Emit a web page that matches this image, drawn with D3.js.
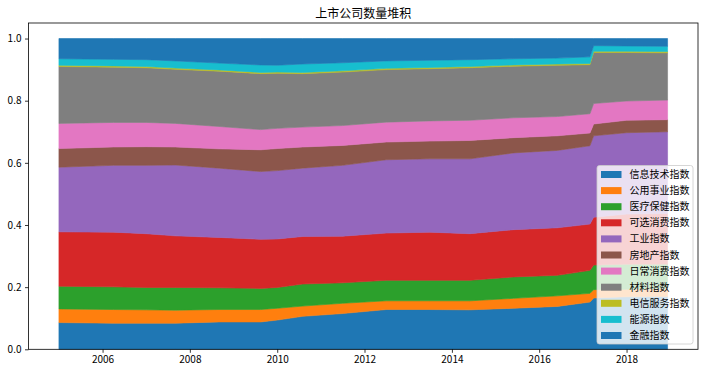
<!DOCTYPE html>
<meta charset="utf-8">
<script src="https://d3js.org/d3.v7.min.js"></script>
<style>
  body { margin: 0; background: #fff; }
  text { font-family: "Noto Sans CJK SC", "DejaVu Sans", sans-serif; }
</style>
<div id="my_dataviz"></div>
<script>
// sector names, bottom layer first
var sectors = ["信息技术指数", "公用事业指数", "医疗保健指数", "可选消费指数", "工业指数",
               "房地产指数", "日常消费指数", "材料指数", "电信服务指数", "能源指数", "金融指数"];

// sample dates
var dates = ["2005-01-01", "2006-04-01", "2007-01-01", "2007-09-01", "2008-09-01", "2009-08-15",
             "2010-01-01", "2010-08-01", "2011-07-01", "2012-07-01", "2013-07-01", "2014-06-01",
             "2015-06-01", "2016-06-01", "2017-03-01", "2017-04-01", "2018-01-01", "2018-12-10"];

// share of listed companies per sector at each date
var infoTech   = [0.086, 0.084, 0.084, 0.084, 0.088, 0.088, 0.094, 0.106, 0.115, 0.128, 0.128, 0.127, 0.132, 0.138, 0.152, 0.165, 0.169, 0.170];
var utilities  = [0.044, 0.044, 0.043, 0.042, 0.040, 0.040, 0.038, 0.033, 0.033, 0.028, 0.028, 0.029, 0.032, 0.034, 0.028, 0.027, 0.024, 0.025];
var health     = [0.073, 0.073, 0.072, 0.073, 0.070, 0.068, 0.067, 0.071, 0.066, 0.066, 0.066, 0.066, 0.069, 0.066, 0.074, 0.079, 0.081, 0.079];
var consDisc   = [0.175, 0.176, 0.173, 0.166, 0.162, 0.158, 0.156, 0.153, 0.150, 0.152, 0.155, 0.150, 0.152, 0.153, 0.149, 0.154, 0.161, 0.163];
var industrial = [0.208, 0.215, 0.220, 0.228, 0.223, 0.218, 0.220, 0.220, 0.228, 0.236, 0.236, 0.241, 0.247, 0.249, 0.252, 0.262, 0.262, 0.263];
var realEstate = [0.060, 0.059, 0.060, 0.058, 0.062, 0.070, 0.071, 0.068, 0.064, 0.057, 0.057, 0.059, 0.049, 0.047, 0.041, 0.038, 0.040, 0.039];
var staples    = [0.081, 0.079, 0.078, 0.076, 0.072, 0.065, 0.065, 0.064, 0.064, 0.064, 0.065, 0.065, 0.064, 0.062, 0.062, 0.066, 0.062, 0.063];
var materials  = [0.183, 0.178, 0.176, 0.174, 0.178, 0.180, 0.177, 0.172, 0.172, 0.169, 0.168, 0.169, 0.166, 0.165, 0.158, 0.164, 0.156, 0.152];
var telecom    = [0.004, 0.004, 0.004, 0.004, 0.004, 0.004, 0.004, 0.004, 0.004, 0.004, 0.004, 0.004, 0.004, 0.004, 0.004, 0.004, 0.004, 0.004];
var energy     = [0.021, 0.021, 0.022, 0.023, 0.022, 0.024, 0.022, 0.027, 0.026, 0.024, 0.023, 0.022, 0.020, 0.019, 0.021, 0.018, 0.017, 0.017];
var finance    = [0.065, 0.067, 0.068, 0.072, 0.079, 0.085, 0.086, 0.082, 0.078, 0.072, 0.070, 0.068, 0.065, 0.063, 0.059, 0.023, 0.024, 0.025];

var seriesValues = [infoTech, utilities, health, consDisc, industrial, realEstate,
                    staples, materials, telecom, energy, finance];

var colors = ["#1f77b4", "#ff7f0e", "#2ca02c", "#d62728", "#9467bd", "#8c564b",
              "#e377c2", "#7f7f7f", "#bcbd22", "#17becf", "#1f77b4"];

var W = 708, H = 374;
var margin = {top: 23, right: 10, bottom: 24.7, left: 28.5},
    width = W - margin.left - margin.right,
    height = H - margin.top - margin.bottom;

var parseDate = d3.timeParse("%Y-%m-%d");

// build table for d3.stack
var table = dates.map(function (d, i) {
    var row = {date: parseDate(d)};
    sectors.forEach(function (s, j) { row[s] = seriesValues[j][i]; });
    return row;
});

var stacked = d3.stack().keys(sectors)(table);

var svg = d3.select("#my_dataviz")
    .append("svg")
    .attr("width", W)
    .attr("height", H);

var g = svg.append("g")
    .attr("transform", "translate(" + margin.left + "," + margin.top + ")");

// matplotlib-like 5% margins on x
var t0 = table[0].date.getTime(), t1 = table[table.length - 1].date.getTime();
var pad = (t1 - t0) * 0.05;
var x = d3.scaleTime()
    .domain([new Date(t0 - pad), new Date(t1 + pad)])
    .range([0, width]);

var y = d3.scaleLinear()
    .domain([0, 1.05])
    .range([height, 0]);

var area = d3.area()
    .x(function (d) { return x(d.data.date); })
    .y0(function (d) { return y(d[0]); })
    .y1(function (d) { return y(d[1]); });

g.selectAll(".layer")
    .data(stacked)
    .enter()
    .append("path")
    .attr("class", "layer")
    .attr("d", area)
    .style("fill", function (d, i) { return colors[i]; })
    .style("stroke", function (d, i) { return colors[i]; })
    .style("stroke-width", 0.6);

// axes
var xAxis = g.append("g")
    .attr("transform", "translate(0," + height + ")")
    .call(d3.axisBottom(x)
        .tickValues(d3.range(2006, 2019, 2).map(function (yr) { return new Date(yr, 0, 1); }))
        .tickFormat(d3.timeFormat("%Y"))
        .tickSizeInner(3.5).tickSizeOuter(0).tickPadding(3.5));

var yAxis = g.append("g")
    .call(d3.axisLeft(y)
        .tickValues([0, 0.2, 0.4, 0.6, 0.8, 1.0])
        .tickFormat(d3.format(".1f"))
        .tickSizeInner(3.5).tickSizeOuter(0).tickPadding(3.5));

[xAxis, yAxis].forEach(function (ax) {
    ax.select(".domain").remove();
    ax.selectAll("line").attr("stroke", "#000").attr("stroke-width", 0.8);
    ax.selectAll("text").attr("fill", "#000").style("font-size", "10px")
        .style("font-family", "'Noto Sans CJK SC', 'DejaVu Sans', sans-serif");
});

// frame
g.append("rect")
    .attr("x", 0).attr("y", 0)
    .attr("width", width).attr("height", height)
    .attr("fill", "none")
    .attr("stroke", "#000")
    .attr("stroke-width", 0.8);

// title
svg.append("text")
    .attr("x", margin.left + width / 2)
    .attr("y", 18)
    .attr("text-anchor", "middle")
    .style("font-size", "12px")
    .text("上市公司数量堆积");

// legend, lower right
var lg = svg.append("g").attr("transform", "translate(597,165.5)");
lg.append("rect")
    .attr("width", 96).attr("height", 178.5)
    .attr("rx", 2.5)
    .attr("fill", "#fff").attr("fill-opacity", 0.8)
    .attr("stroke", "#cccccc").attr("stroke-width", 0.8);

var item = lg.selectAll(".item")
    .data(sectors)
    .enter()
    .append("g")
    .attr("transform", function (d, i) { return "translate(0," + (9 + i * 16.1) + ")"; });

item.append("rect")
    .attr("x", 4).attr("y", -3.5)
    .attr("width", 20.5).attr("height", 7)
    .attr("fill", function (d, i) { return colors[i]; });

item.append("text")
    .attr("x", 32.5)
    .attr("y", 0)
    .attr("dy", "0.35em")
    .style("font-size", "10px")
    .text(function (d) { return d; });
</script>
